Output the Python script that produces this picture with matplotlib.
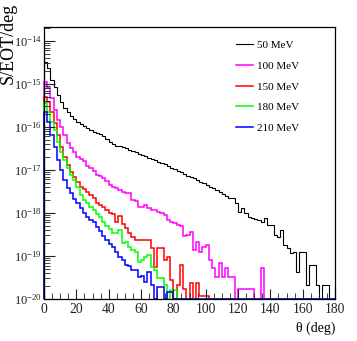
import matplotlib
matplotlib.use("Agg")
import matplotlib.pyplot as plt
import numpy as np
from matplotlib.ticker import MultipleLocator, FixedLocator, NullFormatter

plt.rcParams['font.family'] = ['Liberation Serif', 'DejaVu Serif']
plt.rcParams['mathtext.fontset'] = 'stix'

# 2-degree bins from 0 to 180
edges = np.arange(0, 182, 2)

labels = ["50 MeV", "100 MeV", "150 MeV", "180 MeV", "210 MeV"]
colors = ["#000000", "#ff00ff", "#ff0000", "#00ff00", "#0000ff"]

# S/EOT/deg per bin (0 = empty bin)
e50 = [3.2e-15, 2.3e-15, 1.2e-15, 8.5e-16, 5.5e-16, 3.8e-16, 2.8e-16, 2.2e-16, 1.8e-16, 1.55e-16,
       1.3e-16, 1.18e-16, 1.05e-16, 9.5e-17, 8.5e-17, 7.6e-17, 7.2e-17, 6.9e-17, 6.2e-17, 5.3e-17,
       4.4e-17, 4.0e-17, 3.6e-17, 3.6e-17, 3.4e-17, 3.2e-17, 2.9e-17, 2.8e-17, 2.6e-17, 2.35e-17,
       2.2e-17, 2.1e-17, 1.9e-17, 1.8e-17, 1.7e-17, 1.55e-17, 1.45e-17, 1.38e-17, 1.23e-17, 1.12e-17,
       1.05e-17, 9.5e-18, 9.0e-18, 8.1e-18, 7.3e-18, 6.9e-18, 6.5e-18, 5.9e-18, 5.3e-18, 5.0e-18,
       4.5e-18, 4.0e-18, 3.8e-18, 3.4e-18, 3.1e-18, 2.8e-18, 2.5e-18, 2.2e-18, 2.2e-18, 1.7e-18,
       1.05e-18, 1.3e-18, 1.0e-18, 8.1e-19, 7.7e-19, 7.2e-19, 6.9e-19, 6.2e-19, 7.7e-19, 5.2e-19,
       5.2e-19, 3.1e-19, 2.8e-19, 4.0e-19, 1.8e-19, 1.5e-19, 1.17e-19, 1.24e-19, 4.2e-20, 1.24e-19,
       1.24e-19, 2.1e-20, 6.2e-20, 6.2e-20, 2.1e-20, 0, 2.1e-20, 2.1e-20, 0, 0]

e100 = [1.1e-15, 8.1e-16, 4.7e-16, 2.5e-16, 1.46e-16, 1.0e-16, 6.5e-17, 4.2e-17, 3.2e-17, 2.6e-17,
        2.0e-17, 1.8e-17, 1.6e-17, 1.24e-17, 1.1e-17, 9.5e-18, 7.6e-18, 7.2e-18, 6.5e-18, 5.5e-18,
        4.5e-18, 4.0e-18, 3.8e-18, 3.4e-18, 3.1e-18, 2.9e-18, 2.9e-18, 2.0e-18, 1.9e-18, 1.4e-18,
        1.4e-18, 1.5e-18, 1.3e-18, 1.2e-18, 1.2e-18, 1.05e-18, 1.0e-18, 8.9e-19, 6.9e-19, 6.2e-19,
        5.9e-19, 5.2e-19, 5.0e-19, 2.9e-19, 3.1e-19, 3.6e-19, 1.4e-19, 2.1e-19, 1.24e-19, 1.6e-19,
        1.8e-19, 8.1e-20, 5.3e-20, 3.2e-20, 6.9e-20, 3.2e-20, 5.3e-20, 3.2e-20, 3.2e-20, 0,
        1.7e-20, 1.7e-20, 1.7e-20, 1.7e-20, 1.7e-20, 0, 0, 5.3e-20, 0, 0,
        0, 0, 0, 0, 0, 0, 0, 0, 0, 0,
        0, 0, 0, 0, 0, 0, 0, 0, 0, 0]

e150 = [5.0e-16, 3.8e-16, 2.2e-16, 1.24e-16, 6.5e-17, 3.4e-17, 2.0e-17, 1.3e-17, 9.0e-18, 6.9e-18,
        5.3e-18, 4.0e-18, 3.6e-18, 3.1e-18, 2.6e-18, 2.2e-18, 1.7e-18, 1.5e-18, 1.4e-18, 1.2e-18,
        1.0e-18, 9.5e-19, 6.2e-19, 8.5e-19, 5.5e-19, 4.5e-19, 3.4e-19, 2.8e-19, 2.4e-19, 2.4e-19,
        2.4e-19, 2.4e-19, 2.4e-19, 1.5e-19, 5.5e-20, 1.5e-19, 1.5e-19, 8.1e-20, 9.5e-20, 2.8e-20,
        0, 2.1e-20, 6.2e-20, 1.7e-20, 0, 2.4e-20, 0, 2.4e-20, 1.17e-20, 1.17e-20,
        1.17e-20, 0, 0, 0, 0, 0, 0, 0, 0, 0,
        0, 0, 0, 0, 0, 0, 0, 0, 0, 0,
        0, 0, 0, 0, 0, 0, 0, 0, 0, 0,
        0, 0, 0, 0, 0, 0, 0, 0, 0, 0]

e180 = [3.6e-16, 2.2e-16, 1.3e-16, 8.5e-17, 4.5e-17, 2.6e-17, 1.7e-17, 1.1e-17, 7.6e-18, 5.9e-18,
        4.0e-18, 2.6e-18, 2.0e-18, 1.7e-18, 1.4e-18, 1.2e-18, 9.5e-19, 8.1e-19, 6.2e-19, 5.0e-19,
        4.2e-19, 3.4e-19, 3.4e-19, 4.0e-19, 2.0e-19, 2.1e-19, 1.6e-19, 1.4e-19, 1.24e-19, 7.2e-20,
        8.1e-20, 9.5e-20, 1.05e-19, 5.5e-20, 4.7e-20, 3.1e-20, 3.1e-20, 2.1e-20, 0, 1.6e-20,
        1.6e-20, 0, 0, 0, 0, 0, 0, 0, 0, 0,
        0, 0, 0, 0, 0, 0, 0, 0, 0, 0,
        0, 0, 0, 0, 0, 0, 0, 0, 0, 0,
        0, 0, 0, 0, 0, 0, 0, 0, 0, 0,
        0, 0, 0, 0, 0, 0, 0, 0, 0, 0]

e210 = [2.2e-16, 1.3e-16, 6.5e-17, 3.4e-17, 1.7e-17, 1.0e-17, 5.9e-18, 3.8e-18, 2.9e-18, 2.1e-18,
        1.7e-18, 1.3e-18, 1.0e-18, 8.1e-19, 6.9e-19, 6.2e-19, 4.7e-19, 3.8e-19, 2.9e-19, 2.4e-19,
        1.9e-19, 1.6e-19, 1.24e-19, 9.5e-20, 8.1e-20, 6.2e-20, 6.0e-20, 4.7e-20, 4.7e-20, 3.2e-20,
        3.4e-20, 2.5e-20, 4.2e-20, 2.1e-20, 0, 1.9e-20, 1.9e-20, 0, 1.45e-20, 1.45e-20,
        0, 0, 0, 0, 0, 0, 0, 0, 0, 0,
        0, 0, 0, 0, 0, 0, 0, 0, 0, 0,
        0, 0, 0, 0, 0, 0, 0, 0, 0, 0,
        0, 0, 0, 0, 0, 0, 0, 0, 0, 0,
        0, 0, 0, 0, 0, 0, 0, 0, 0, 0]

series = [e50, e100, e150, e180, e210]
ymin, ymax = 1e-20, 2.1e-14

fig = plt.figure(figsize=(3.57, 3.41), dpi=100)
ax = fig.add_axes([44 / 357, 1 - 299 / 341, 291 / 357, 272 / 341])

for vals, col, lab in zip(series, colors, labels):
    # empty bins sit on the bottom of the frame, like ROOT draws them
    v = np.maximum(np.array(vals, dtype=float), ymin)
    lw = 0.8 if col == "#000000" else 1.1
    ax.stairs(v, edges, baseline=ymin, color=col, lw=lw, label=lab, clip_on=False)

ax.set_yscale("log")
ax.set_xlim(0, 180)
ax.set_ylim(ymin, ymax)

ax.xaxis.set_major_locator(MultipleLocator(20))
ax.xaxis.set_minor_locator(MultipleLocator(5))
decades = [10.0 ** k for k in range(-20, -13)]
minors = [m * d for d in decades for m in range(2, 10) if m * d < ymax]
ax.yaxis.set_major_locator(FixedLocator(decades))
ax.yaxis.set_minor_locator(FixedLocator(minors))
ax.yaxis.set_minor_formatter(NullFormatter())

ax.tick_params(which="both", direction="in", top=False, right=False, colors="#222222")
ax.tick_params(axis="x", which="major", length=7, pad=3, labelsize=9.8)
ax.tick_params(axis="x", which="minor", length=4)
ax.tick_params(axis="y", which="major", length=8, pad=1.5, labelsize=9)
ax.tick_params(axis="y", which="minor", length=4)
for s in ax.spines.values():
    s.set_linewidth(0.9)

fig.text(8 / 357, 1 - 3 / 341, "S/EOT/deg", rotation=90, ha="center", va="top", fontsize=13)
fig.text(335 / 357, 1 - 328 / 341, "θ (deg)", ha="right", va="center", fontsize=10)

leg = ax.legend(loc="upper left", bbox_to_anchor=(230 / 357, 1 - 35 / 341),
                bbox_transform=fig.transFigure, frameon=False, fontsize=8,
                handlelength=1.6, handletextpad=0.35, labelspacing=0.98, borderpad=0)

fig.savefig("out.png", dpi=100)
